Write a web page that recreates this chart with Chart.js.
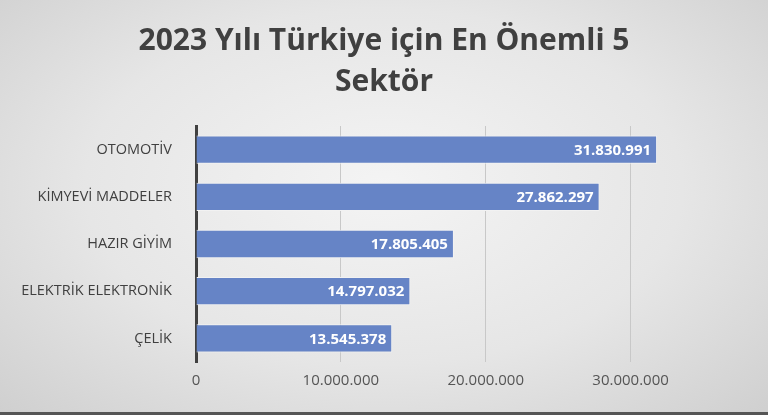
<!DOCTYPE html>
<html>
<head>
<meta charset="utf-8">
<script src="https://cdn.jsdelivr.net/npm/chart.js@4"></script>
<style>
  html, body { margin: 0; padding: 0; }
  body {
    width: 768px; height: 415px; overflow: hidden;
    background: radial-gradient(ellipse at 50% 45%, #f4f4f4 0%, #e6e6e6 55%, #cfcfcf 100%);
  }
  #wrap { position: relative; width: 768px; height: 412px; border-bottom: 3px solid #555; }
  #title {
    position: absolute; left: 0; top: 18px; width: 768px; text-align: center;
    font-family: 'Open Sans'; font-weight: bold; font-size: 30px; line-height: 41px; color: #404040;
  }
</style>
</head>
<body>
<div id="wrap">
  <div id="title"></div>
  <canvas id="myChart"></canvas>
</div>
<script>
const categories = ["OTOMOTİV", "KİMYEVİ MADDELER", "HAZIR GİYİM", "ELEKTRİK ELEKTRONİK", "ÇELİK"];
const values = [31830991, 27862297, 17805405, 14797032, 13545378];
const titleLines = ["2023 Yılı Türkiye için En Önemli 5", "Sektör"];
const xTicks = [0, 10000000, 20000000, 30000000];

document.getElementById("title").innerHTML = titleLines.join("<br>");

const fmt = (v) => Math.round(v).toString().replace(/\B(?=(\d{3})+(?!\d))/g, ".");

const barLabels = {
  id: "barLabels",
  afterDatasetsDraw(chart) {
    const ctx = chart.ctx;
    ctx.save();
    ctx.font = "bold 15px 'Open Sans'";
    ctx.fillStyle = "#ffffff";
    ctx.textAlign = "right";
    ctx.textBaseline = "middle";
    chart.getDatasetMeta(0).data.forEach((bar, i) => {
      ctx.fillText(fmt(values[i]), bar.x - 6, bar.y + 1);
    });
    ctx.restore();
  }
};

new Chart(document.getElementById("myChart"), {
  type: "bar",
  data: {
    labels: categories,
    datasets: [{
      data: values,
      backgroundColor: "#6684c6",
      borderColor: "#f2f2f2",
      borderWidth: 1,
      categoryPercentage: 1,
      barPercentage: 0.6,
    }],
  },
  options: {
    indexAxis: "y",
    responsive: true,
    maintainAspectRatio: false,
    animation: false,
    layout: { padding: { top: 126, right: 65, bottom: 12, left: 0 } },
    plugins: {
      legend: { display: false },
      tooltip: { enabled: false },
    },
    scales: {
      x: {
        min: 0,
        max: 35000000,
        afterBuildTicks: (s) => { s.ticks = xTicks.map((v) => ({ value: v })); },
        ticks: {
          color: "#555",
          font: { family: "'Open Sans'", size: 15 },
          padding: 10,
          callback: (v) => fmt(v),
        },
        grid: {
          color: (c) => (c.tick && c.tick.value === 0 ? "rgba(0,0,0,0)" : "#c8c8c8"),
          drawTicks: false,
        },
        border: { display: false },
      },
      y: {
        afterFit: (s) => { s.width = 196; },
        ticks: {
          color: "#404040",
          font: { family: "'Open Sans'", size: 14.5 },
          padding: 16,
        },
        grid: { display: false },
        border: { display: true, color: "#404040", width: 3 },
      },
    },
  },
  plugins: [barLabels],
});
</script>
</body>
</html>
